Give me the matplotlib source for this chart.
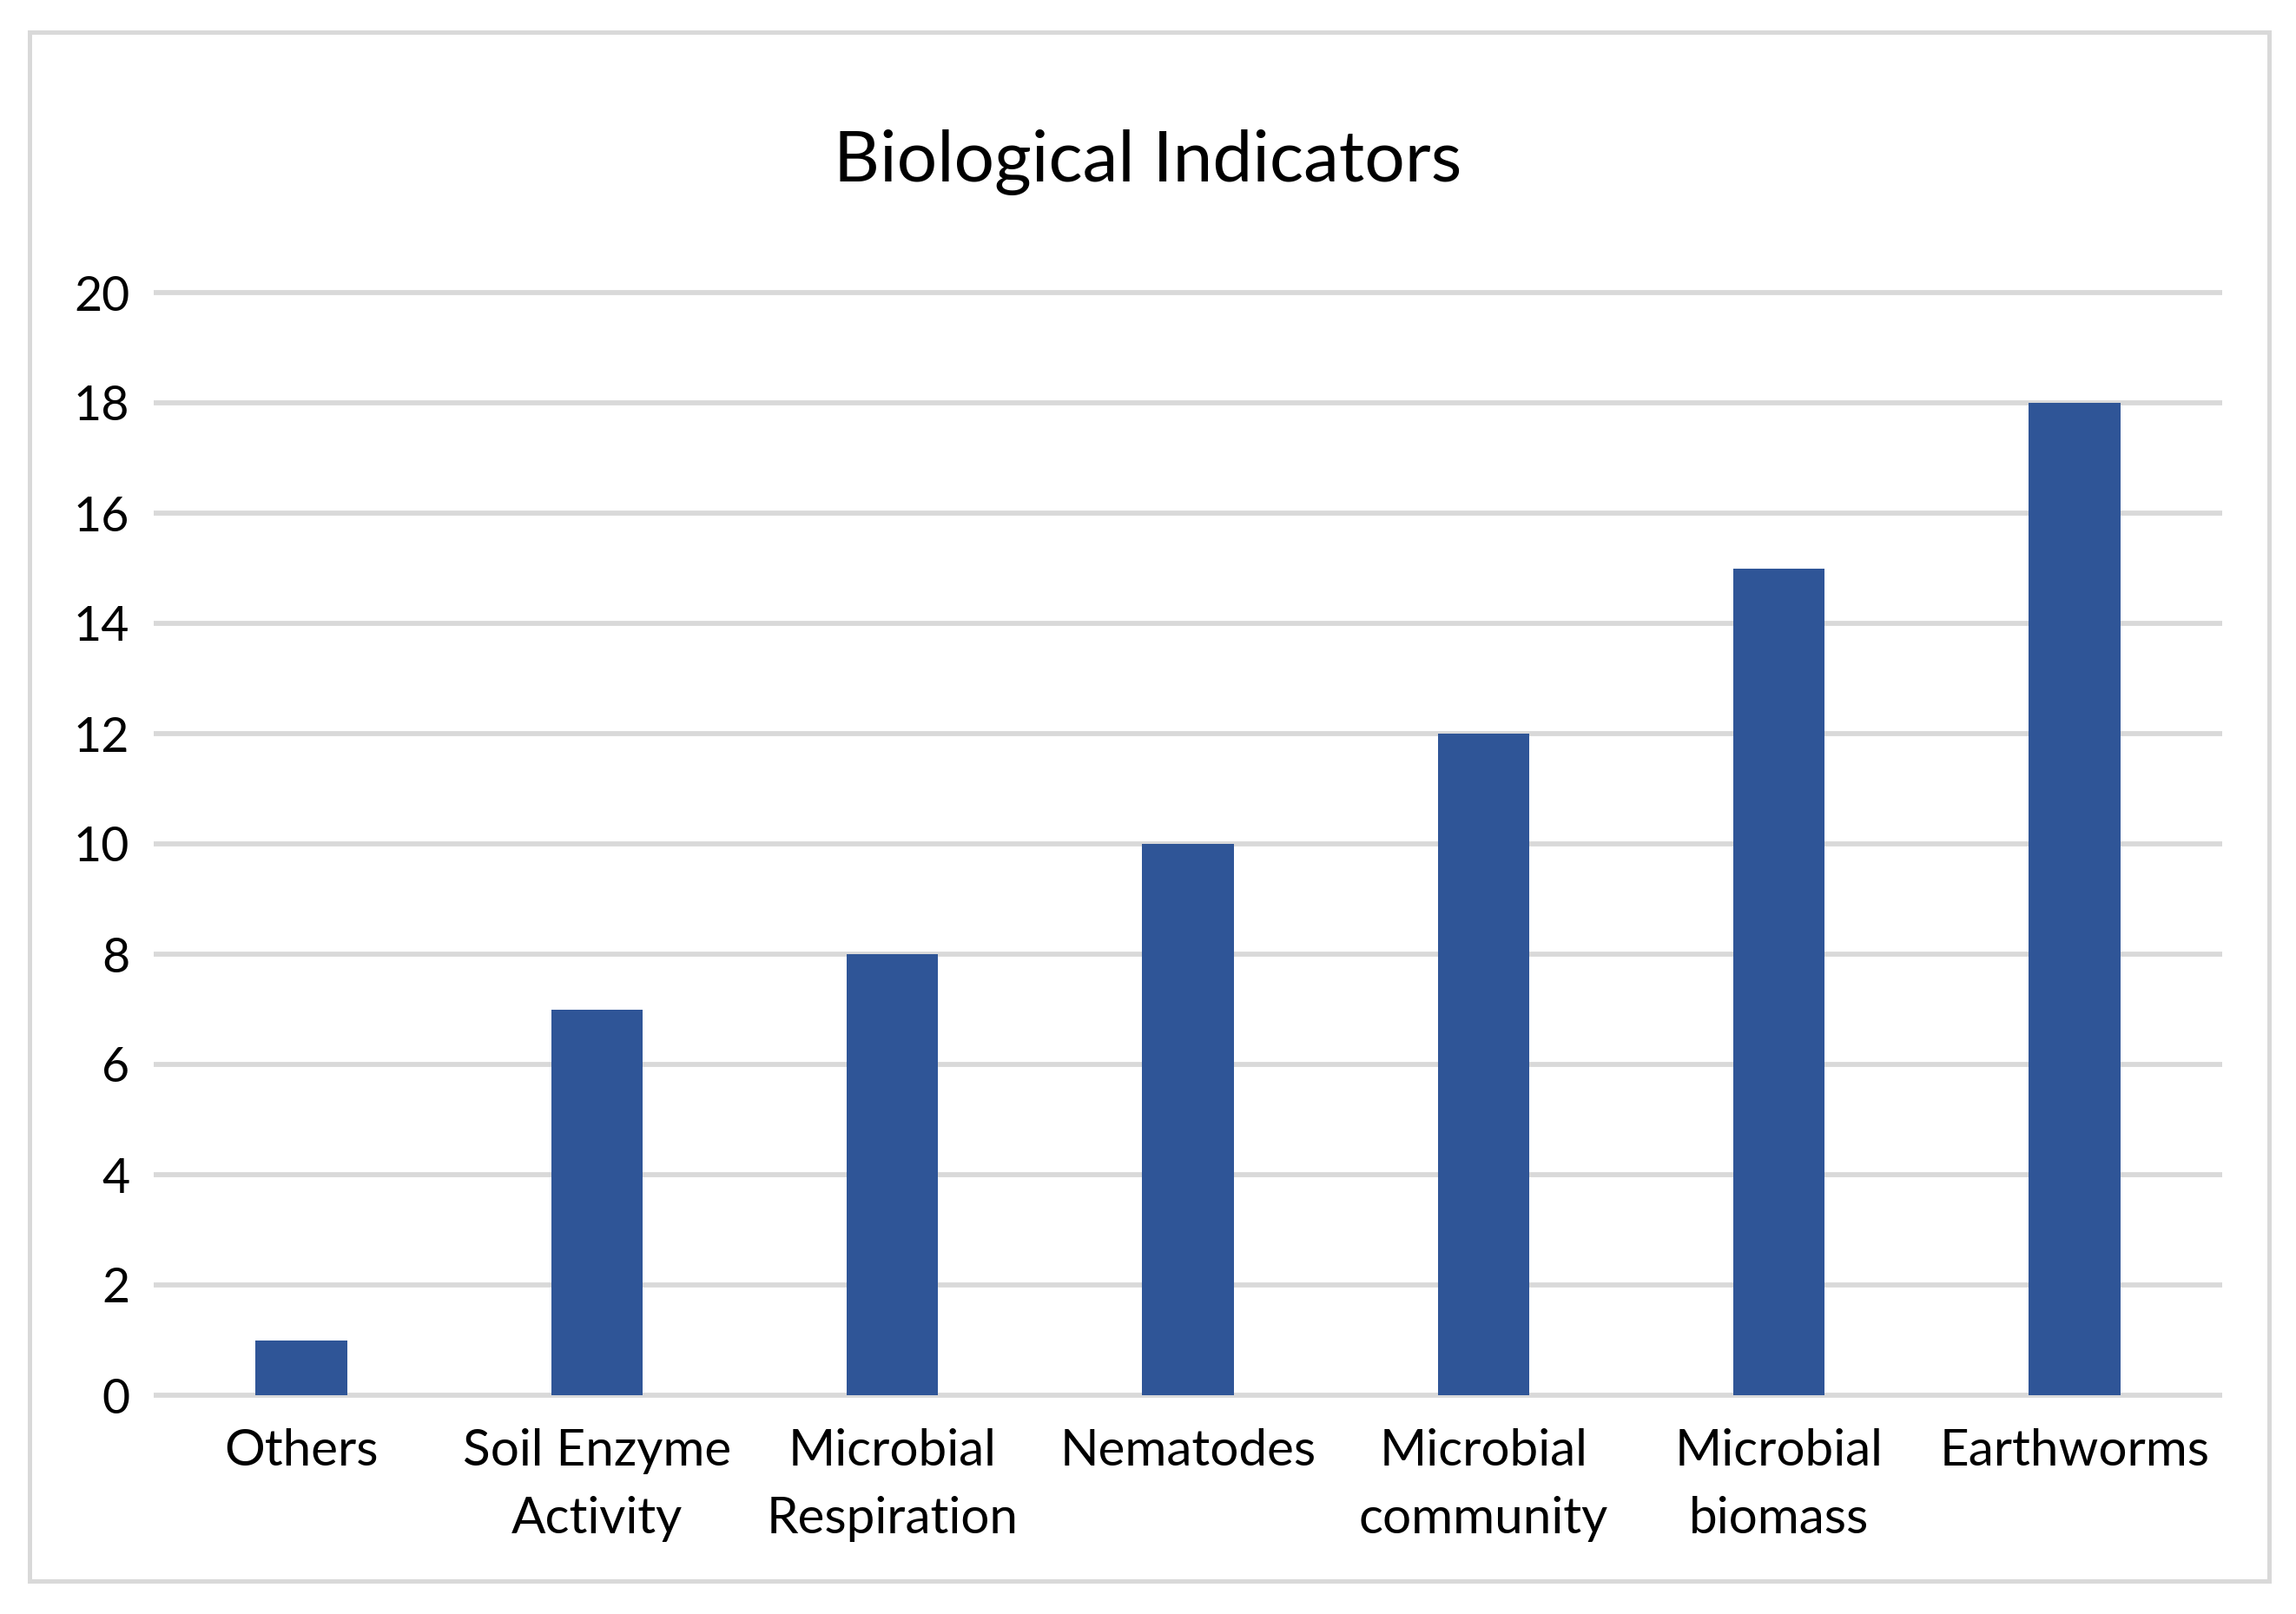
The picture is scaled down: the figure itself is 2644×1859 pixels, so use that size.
import matplotlib
matplotlib.use("Agg")
import matplotlib.pyplot as plt
from matplotlib.patches import Rectangle

categories = ["Others", "Soil Enzyme\nActivity", "Microbial\nRespiration", "Nematodes",
              "Microbial\ncommunity", "Microbial\nbiomass", "Earthworms"]
values = [1, 7, 8, 10, 12, 15, 18]
yticks = [0, 2, 4, 6, 8, 10, 12, 14, 16, 18, 20]
title = "Biological Indicators"

plt.rcParams['font.family'] = ['Lato', 'DejaVu Sans']

W, H = 2644, 1859
fig = plt.figure(figsize=(W / 100, H / 100), dpi=100)
fig.patch.set_facecolor("white")

# outer border
fig.patches.append(Rectangle((34 / W, 1 - 1821 / H), (2613 - 34) / W, (1821 - 37) / H,
                             transform=fig.transFigure, fill=False,
                             edgecolor="#D9D9D9", linewidth=3.6, zorder=0))

ax = fig.add_axes([177 / W, 1 - 1607 / H, (2559 - 177) / W, (1607 - 337) / H])
x = list(range(len(categories)))
ax.bar(x, values, width=0.31, color="#2F5597", zorder=3)
ax.set_xlim(-0.5, len(categories) - 0.5)
ax.set_ylim(0, 20)
ax.hlines(yticks, -0.5, len(categories) - 0.5, colors="#D9D9D9", linewidth=4.2,
          zorder=1, clip_on=False)
ax.set_yticks(yticks)
ax.set_yticklabels([str(v) for v in yticks], fontsize=40)
ax.set_xticks(x)
ax.set_xticklabels(categories, fontsize=42, linespacing=1.6)
ax.tick_params(axis="both", length=0)
ax.tick_params(axis="y", pad=20)
ax.tick_params(axis="x", pad=27)
for s in ax.spines.values():
    s.set_visible(False)

fig.text(0.5, 1 - 187 / H, title, ha="center", va="center", fontsize=59)

fig.savefig("out.png", dpi=100, facecolor="white")
